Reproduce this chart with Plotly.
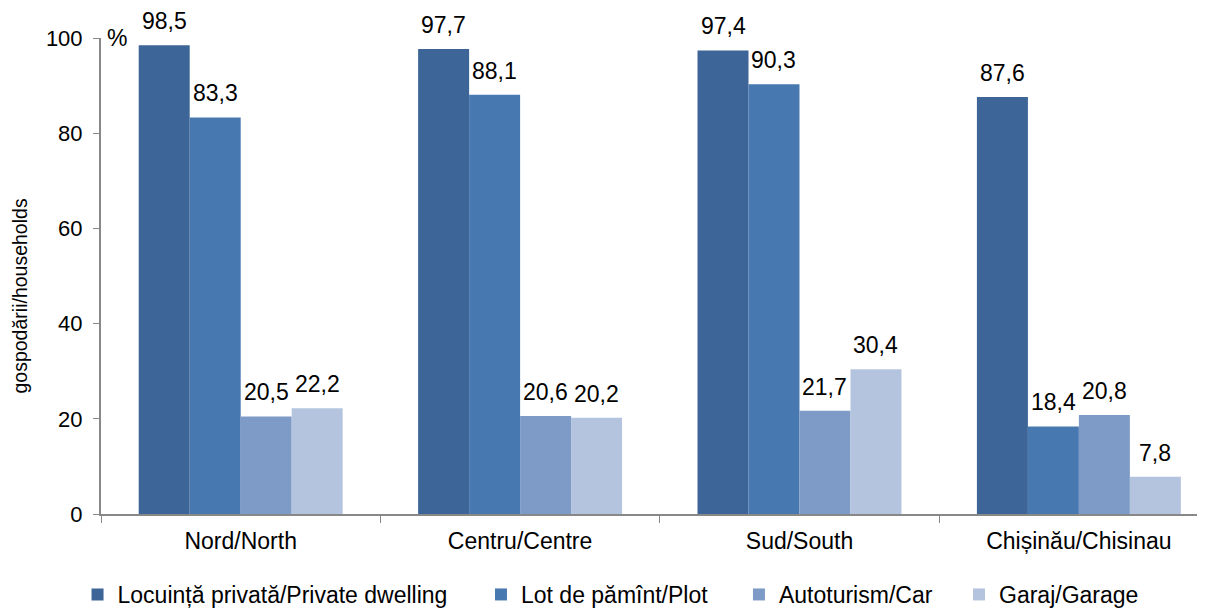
import plotly.graph_objects as go

categories = ["Nord/North", "Centru/Centre", "Sud/South", "Chișinău/Chisinau"]
series_names = ["Locuință privată/Private dwelling", "Lot de pămînt/Plot",
                "Autoturism/Car", "Garaj/Garage"]
dwelling = [98.5, 97.7, 97.4, 87.6]
plot_land = [83.3, 88.1, 90.3, 18.4]
car = [20.5, 20.6, 21.7, 20.8]
garage = [22.2, 20.2, 30.4, 7.8]
y_ticks = [0, 20, 40, 60, 80, 100]

colors = ["#3D6597", "#4878B0", "#7E9BC8", "#B4C4DF"]
FONT = "Liberation Sans, Arial, sans-serif"

W, H = 1205, 608
ML, MR, MT, MB = 93, 0, 30, 101
X_RANGE = [-0.5, 3.48]
BARGAP = 0.27

plot_w = W - ML - MR
cat_px = plot_w / (X_RANGE[1] - X_RANGE[0])
bar_px = cat_px * (1 - BARGAP) / 4

legend_x = [-0.0211, 0.3417, 0.5737, 0.7716]
legend_keys = ["legend", "legend2", "legend3", "legend4"]

fig = go.Figure()
all_vals = [dwelling, plot_land, car, garage]
for i, (name, vals, col) in enumerate(zip(series_names, all_vals, colors)):
    fig.add_trace(go.Bar(
        x=categories, y=vals, name=name, marker_color=col,
        marker_line_width=0, legend=legend_keys[i],
    ))
    for c, v in zip(categories, vals):
        fig.add_annotation(
            x=c, y=v, xref="x", yref="y", text=f"{v:.1f}".replace(".", ","),
            showarrow=False, xanchor="center", yanchor="bottom",
            xshift=(i - 1.5) * bar_px, yshift=9,
            font=dict(size=23, family=FONT, color="#000000"),
        )

legend_common = dict(orientation="h", xanchor="left", y=-0.168, yanchor="middle",
                     font=dict(size=23, family=FONT, color="#000000"),
                     bgcolor="rgba(0,0,0,0)")
fig.update_layout(
    width=W, height=H,
    paper_bgcolor="white", plot_bgcolor="white",
    margin=dict(l=ML, r=MR, t=MT, b=MB),
    barmode="group", bargap=BARGAP, bargroupgap=0,
    font=dict(family=FONT, size=23, color="#000000"),
    showlegend=True,
    legend=dict(x=legend_x[0], **legend_common),
    legend2=dict(x=legend_x[1], **legend_common),
    legend3=dict(x=legend_x[2], **legend_common),
    legend4=dict(x=legend_x[3], **legend_common),
)
fig.update_xaxes(
    type="category", range=X_RANGE,
    showline=True, linecolor="#888888", linewidth=2,
    ticks="outside", tickson="boundaries", ticklen=7, tickcolor="#888888",
    tickfont=dict(size=23, family=FONT), showgrid=False,
    ticklabelstandoff=5,
)
fig.update_yaxes(
    range=[0, 100], tickvals=y_ticks,
    showline=True, linecolor="#888888", linewidth=2,
    ticks="outside", ticklen=6, tickcolor="#888888",
    tickfont=dict(size=22, family=FONT), showgrid=False, zeroline=False,
    ticklabelstandoff=6,
)
fig.add_annotation(text="gospodării/households", xref="paper", yref="paper",
                   x=-0.0728, y=0.457, xanchor="center", yanchor="middle",
                   textangle=-90, showarrow=False,
                   font=dict(size=19.5, family=FONT, color="#000000"))
fig.add_annotation(text="%", xref="paper", yref="y", x=0.004, y=100, xanchor="left",
                   yanchor="middle", showarrow=False, font=dict(size=23, family=FONT))

fig.write_html("out.html")
